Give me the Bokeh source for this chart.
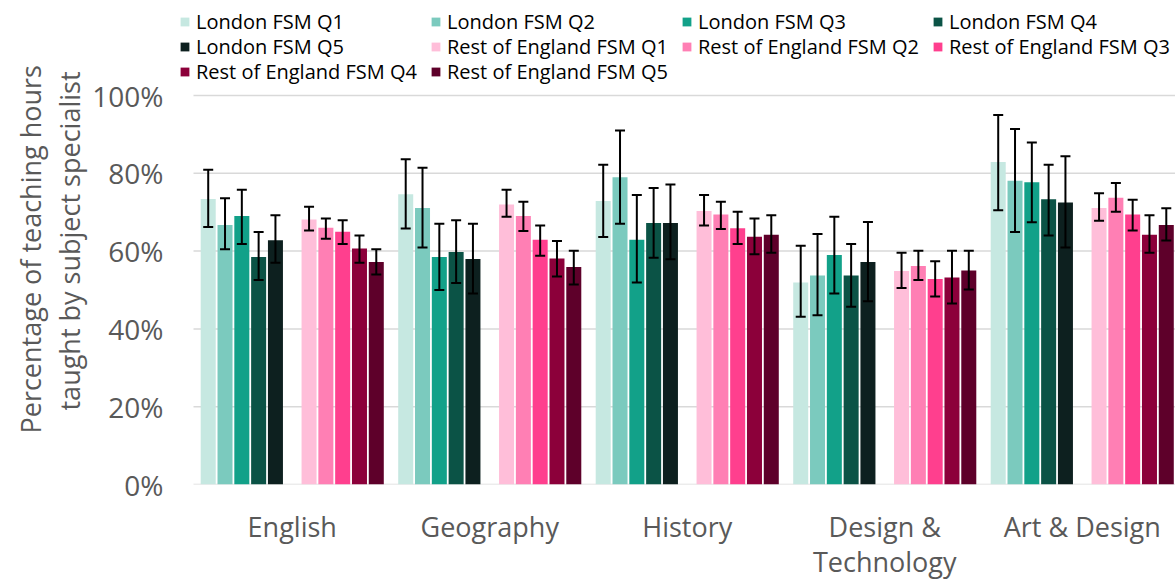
from bokeh.plotting import figure
from bokeh.models import (ColumnDataSource, Range1d, FixedTicker, PrintfTickFormatter,
                          Whisker, TeeHead, Legend, LegendItem, Title)
from bokeh.embed import file_html
from bokeh.resources import INLINE

# ---------------- data (percent) ----------------
categories = ["English", "Geography", "History", "Design & Technology", "Art & Design"]
category_labels = ["English", "Geography", "History", "Design &\nTechnology", "Art & Design"]

series_names = ["London FSM Q1", "London FSM Q2", "London FSM Q3", "London FSM Q4", "London FSM Q5",
                "Rest of England FSM Q1", "Rest of England FSM Q2", "Rest of England FSM Q3",
                "Rest of England FSM Q4", "Rest of England FSM Q5"]
series_colors = ["#C6E8E1", "#7BCABE", "#12A189", "#0B5346", "#0D201F",
                 "#FFBED9", "#FF7FB4", "#FF3F8E", "#8C003A", "#5E002A"]

london_q1 = [73.4, 74.6, 72.9, 51.9, 82.9]
london_q1_lo = [66.2, 65.8, 63.6, 43.1, 70.5]
london_q1_hi = [80.9, 83.6, 82.2, 61.4, 95.0]

london_q2 = [66.7, 71.1, 79.0, 53.7, 78.1]
london_q2_lo = [60.5, 60.9, 67.0, 43.5, 64.9]
london_q2_hi = [73.6, 81.4, 91.0, 64.4, 91.4]

london_q3 = [69.0, 58.5, 62.9, 59.0, 77.7]
london_q3_lo = [61.8, 50.0, 51.9, 49.1, 67.4]
london_q3_hi = [75.8, 67.0, 74.4, 68.8, 87.9]

london_q4 = [58.5, 59.8, 67.2, 53.7, 73.3]
london_q4_lo = [52.6, 51.8, 58.3, 45.7, 64.0]
london_q4_hi = [64.9, 67.9, 76.2, 61.8, 82.2]

london_q5 = [62.8, 58.0, 67.2, 57.2, 72.5]
london_q5_lo = [57.0, 49.1, 57.9, 47.1, 60.9]
london_q5_hi = [69.2, 67.0, 77.1, 67.5, 84.4]

rest_q1 = [68.1, 72.0, 70.3, 54.9, 71.1]
rest_q1_lo = [65.3, 68.8, 66.6, 50.5, 67.8]
rest_q1_hi = [71.4, 75.8, 74.4, 59.6, 74.9]

rest_q2 = [66.0, 69.0, 69.4, 56.2, 73.7]
rest_q2_lo = [63.2, 65.2, 65.7, 52.6, 70.1]
rest_q2_hi = [68.4, 72.7, 72.7, 60.1, 77.5]

rest_q3 = [65.0, 62.9, 65.9, 52.8, 69.4]
rest_q3_lo = [61.8, 58.8, 61.8, 48.3, 65.3]
rest_q3_hi = [67.9, 66.6, 70.1, 57.4, 73.2]

rest_q4 = [60.7, 58.1, 63.7, 53.2, 64.2]
rest_q4_lo = [57.0, 53.5, 59.2, 46.5, 59.6]
rest_q4_hi = [64.0, 62.6, 68.4, 60.1, 69.2]

rest_q5 = [57.2, 55.9, 64.2, 55.0, 66.7]
rest_q5_lo = [54.0, 51.4, 59.6, 50.1, 62.7]
rest_q5_hi = [60.5, 60.1, 69.2, 60.1, 71.0]

y_ticks = [0, 20, 40, 60, 80, 100]
y_title_lines = ["Percentage of teaching hours", "taught by subject specialist"]

series_values = [london_q1, london_q2, london_q3, london_q4, london_q5,
                 rest_q1, rest_q2, rest_q3, rest_q4, rest_q5]
series_lo = [london_q1_lo, london_q2_lo, london_q3_lo, london_q4_lo, london_q5_lo,
             rest_q1_lo, rest_q2_lo, rest_q3_lo, rest_q4_lo, rest_q5_lo]
series_hi = [london_q1_hi, london_q2_hi, london_q3_hi, london_q4_hi, london_q5_hi,
             rest_q1_hi, rest_q2_hi, rest_q3_hi, rest_q4_hi, rest_q5_hi]

FONT = "Open Sans"
GREY = "#595959"

# ---------------- geometry ----------------
W, H = 1175, 583
FRAME_LEFT = 170          # frame extends a little left of the first category band
CAT_PX = 197.5            # pixels per category band
BOTTOM = 97               # space for category labels
PX_PER_PCT = 3.906
X0 = -0.5 - (193 - FRAME_LEFT) / CAT_PX
X1 = X0 + (W - FRAME_LEFT) / CAT_PX
Y1 = (H - BOTTOM) / PX_PER_PCT   # frame reaches the top: legend lives inside it

p = figure(width=W, height=H,
           x_range=Range1d(X0, X1), y_range=Range1d(0, Y1),
           output_backend="svg", toolbar_location=None,
           min_border_left=FRAME_LEFT, min_border_right=0,
           min_border_top=0, min_border_bottom=BOTTOM)
p.outline_line_color = None
p.background_fill_color = "white"
p.border_fill_color = "white"
p.xgrid.grid_line_color = None
p.ygrid.grid_line_color = None

# horizontal gridlines spanning the category bands only
p.segment(x0=[-0.5] * len(y_ticks), x1=[X1] * len(y_ticks), y0=y_ticks, y1=y_ticks,
          line_color="#D9D9D9", line_width=1.5)

p.yaxis.ticker = FixedTicker(ticks=y_ticks)
p.yaxis.formatter = PrintfTickFormatter(format="%d%%")
p.yaxis.axis_line_color = None
p.yaxis.major_tick_line_color = None
p.yaxis.minor_tick_line_color = None
p.yaxis.major_label_text_font = FONT
p.yaxis.major_label_text_font_size = "28px"
p.yaxis.major_label_text_color = GREY
p.yaxis.major_label_standoff = 1

p.xaxis.ticker = FixedTicker(ticks=list(range(len(categories))))
p.xaxis.major_label_overrides = {i: lab for i, lab in enumerate(category_labels)}
p.xaxis.axis_line_color = None
p.xaxis.major_tick_line_color = None
p.xaxis.minor_tick_line_color = None
p.xaxis.major_label_text_font = FONT
p.xaxis.major_label_text_font_size = "27px"
p.xaxis.major_label_text_color = GREY
p.xaxis.major_label_text_line_height = 0.97
p.xaxis.major_label_standoff = 17

SLOT = 0.0851
BAR_W = 0.076

renderers = []
for s, name in enumerate(series_names):
    slot = (s - 5) if s < 5 else (s - 4)
    xs = [i + slot * SLOT for i in range(len(categories))]
    src = ColumnDataSource(dict(x=xs, top=series_values[s],
                                lower=series_lo[s], upper=series_hi[s]))
    r = p.vbar(x="x", top="top", bottom=0, width=BAR_W, source=src,
               fill_color=series_colors[s], line_color=None)
    renderers.append(r)
    w = Whisker(base="x", upper="upper", lower="lower", source=src,
                dimension="height", line_color="black", line_width=2, level="annotation",
                upper_head=TeeHead(size=10, line_width=2, line_color="black"),
                lower_head=TeeHead(size=10, line_width=2, line_color="black"))
    p.add_layout(w)

# ---------------- legend: three rows inside the (tall) frame ----------------
rows = [[0, 1, 2, 3], [4, 5, 6, 7], [8, 9]]
row_tops = [12, 37, 62]          # pixels from the top of the picture
ITEM_H = 25
frame_h = H - BOTTOM
for idx, row in enumerate(rows):
    items = [LegendItem(label=series_names[k], renderers=[renderers[k]]) for k in row]
    lg = Legend(items=items,
                location=(179 - FRAME_LEFT, frame_h - row_tops[idx] - ITEM_H),
                orientation="horizontal",
                padding=0, margin=0, spacing=4,
                glyph_width=11, glyph_height=11, label_standoff=6,
                label_width=230, label_height=ITEM_H,
                label_text_font=FONT, label_text_font_size="20px",
                label_text_color="black",
                border_line_color=None, background_fill_alpha=0)
    p.add_layout(lg, "center")

# ---------------- y axis title (two lines, inner line first) ----------------
for text, off in [(y_title_lines[1], 74), (y_title_lines[0], 51)]:
    t = Title(text=text, align="left", offset=off, vertical_align="top", standoff=0,
              text_font=FONT, text_font_size="27px", text_font_style="normal",
              text_color=GREY)
    p.add_layout(t, "left")

open("out.html", "w").write(file_html(p, INLINE))
